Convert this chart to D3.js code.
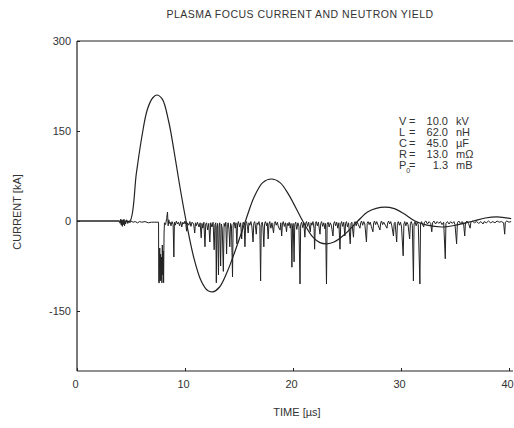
<!DOCTYPE html>
<html><head><meta charset="utf-8">
<script src="https://cdn.jsdelivr.net/npm/d3@7"></script>
<style>
body{margin:0;background:#fff;}
text{font-family:"Liberation Sans",Arial,sans-serif;fill:#333;}
</style></head>
<body><svg id="c" width="514" height="428"></svg>
<script>
const title = "PLASMA FOCUS CURRENT AND NEUTRON YIELD";
const xTicks = [0, 10, 20, 30, 40];
const yTicks = [300, 150, 0, -150];
const paramNames = ["V", "L", "C", "R", "P"];
const paramValues = ["10.0", "62.0", "45.0", "13.0", "1.3"];
const paramUnits = ["kV", "nH", "\u00b5F", "m\u03a9", "mB"];

// Discharge current (kA) vs time (µs)
const currentT = [0, 4.5, 4.9, 5.5, 6.0, 6.5, 7.0, 7.4, 7.9, 8.5, 9.0, 9.5, 10.1, 10.8, 11.5, 12.1, 12.6, 13.2, 13.9, 14.6, 15.6, 16.4, 17.2, 18.0, 18.8, 19.6, 20.9, 21.8, 22.5, 23.1, 23.8, 24.8, 26.0, 26.9, 27.7, 28.5, 29.3, 30.2, 31.3, 32.4, 33.9, 35.3, 36.7, 37.8, 38.9, 40.2];
const currentV = [0, 0, 0, 80, 140, 185, 205, 210, 203, 165, 115, 60, 0, -60, -100, -116, -118, -110, -85, -52, 0, 40, 64, 70, 64, 44, 0, -26, -36, -38, -35, -22, 0, 15, 21, 23, 21, 13, 0, -7, -10, -6, 0, 5, 7, 4];

// Neutron detector signal [time µs, amplitude]
const noise = [
[0,0],[3.9,0],[4.0,-4],[4.05,3],[4.1,-7],[4.15,2],[4.2,-9],[4.25,1],[4.3,-6],[4.35,3],[4.4,-8],[4.45,0],[4.5,-5],[4.6,2],[4.7,-4],[4.8,-1],[4.9,-3],[5.0,0],[5.2,-2],[5.4,-1],[5.6,-3],[5.8,-1],[6.0,-2],[6.3,-1],[6.6,-3],[6.9,-2],[7.2,-2],[7.55,-2],
[7.57,-103],[7.62,-103],[7.66,-45],[7.7,-100],[7.74,-55],[7.78,-98],[7.82,-60],[7.86,-103],[7.9,-40],[7.94,-90],[7.98,-50],[8.02,-103],[8.06,-20],[8.1,-3],[8.2,-6],[8.3,4],[8.38,15],[8.44,-8],[8.5,2],[8.56,-4],
[8.62,-2],[8.7,-8],[8.8,-1],[8.9,-6],[8.97,-60],[9.02,-2],[9.1,-7],[9.2,0],[9.3,-5],[9.4,-2],[9.5,-8],[9.6,-1],[9.7,-10],[9.8,-2],[9.9,-5],[10.0,0],[10.08,-6],[10.15,-17],[10.22,-3],[10.35,-7],[10.45,-1],[10.55,-9],[10.65,-2],[10.8,-5],[10.9,-20],[10.97,-3],[11.05,-8],[11.15,-2],[11.3,-10],[11.4,-3],[11.5,-28],[11.57,-4],[11.65,-12],[11.75,-2],[11.85,-43],[11.92,-5],[12.0,-3],[12.1,-15],[12.2,-4],[12.3,-35],[12.38,-3],[12.5,-10],[12.6,-2],[12.7,-48],[12.77,-6],[12.85,-3],[12.9,-103],[12.95,-10],[13.02,-4],[13.1,-90],[13.16,-8],[13.22,-3],[13.3,-75],[13.36,-5],[13.45,-12],[13.55,-84],[13.62,-4],[13.7,-9],[13.78,-2],[13.85,-55],[13.92,-6],[14.0,-3],[14.07,-14],[14.15,-43],[14.22,-4],[14.3,-8],[14.4,-93],[14.46,-5],[14.55,-2],[14.65,-12],[14.72,-3],[14.8,-38],[14.87,-5],[14.95,-1],[15.05,-10],[15.15,-3],[15.25,-30],[15.32,-6],[15.4,-2],[15.48,-8],[15.55,-43],[15.62,-4],[15.7,-1],[15.78,-9],[15.85,-20],[15.92,-3],[16.0,-7],[16.1,-1],[16.2,-10],[16.3,-35],[16.37,-4],[16.45,-1],[16.52,-8],[16.6,-22],[16.67,-3],[16.75,-6],[16.85,-1],[16.93,-9],[17.0,-100],[17.06,-6],[17.15,-2],[17.22,-10],[17.3,-43],[17.37,-4],[17.45,-1],[17.55,-8],[17.62,-3],[17.7,-30],[17.77,-5],[17.85,-1],[17.95,-12],[18.05,-3],[18.2,-20],[18.27,-4],[18.35,-1],[18.45,-7],[18.55,-2],[18.65,-10],[18.8,-15],[18.87,-3],[18.95,-25],[19.02,-5],[19.1,-1],[19.2,-9],[19.3,-3],[19.4,-18],[19.47,-4],[19.55,-8],[19.65,-2],[19.75,-12],[19.82,-4],[19.9,-77],[19.96,-8],[20.02,-4],[20.1,-68],[20.16,-6],[20.25,-2],[20.35,-14],[20.45,-3],[20.55,-9],[20.65,-105],[20.71,-6],[20.8,-2],[20.9,-11],[21.0,-3],[21.1,-27],[21.17,-4],[21.25,-1],[21.35,-9],[21.45,-2],[21.6,-18],[21.67,-3],[21.75,-7],[21.85,-1],[21.95,-12],[22.0,-47],[22.07,-4],[22.15,-1],[22.25,-8],[22.35,-2],[22.5,-22],[22.57,-4],[22.65,-1],[22.75,-9],[22.85,-3],[22.95,-13],[23.02,-4],[23.1,-105],[23.16,-6],[23.25,-2],[23.35,-10],[23.45,-3],[23.55,-7],[23.7,-25],[23.77,-4],[23.85,-1],[23.95,-8],[24.05,-2],[24.15,-12],[24.25,-3],[24.35,-47],[24.42,-5],[24.5,-1],[24.6,-9],[24.7,-2],[24.8,-25],[24.87,-4],[24.95,-1],[25.05,-10],[25.15,-3],[25.3,-38],[25.37,-4],[25.45,-2],[25.6,-27],[25.67,-4],[25.75,-1],[25.85,-8],[25.95,-2],[26.05,-6],[26.2,-12],[26.27,-3],[26.35,0],[26.45,-7],[26.55,-1],[26.65,-5],[26.8,-35],[26.87,-4],[26.95,-1],[27.05,-6],[27.15,-2],[27.25,-9],[27.4,-18],[27.47,-3],[27.55,0],[27.65,-6],[27.75,-1],[27.9,-8],[28.05,-15],[28.12,-3],[28.2,0],[28.3,-6],[28.4,-2],[28.55,-7],[28.7,-12],[28.77,-3],[28.85,0],[28.95,-5],[29.05,-1],[29.15,-8],[29.3,-25],[29.37,-4],[29.45,-2],[29.6,-35],[29.67,-4],[29.75,-1],[29.85,-7],[29.95,-2],[30.05,-10],[30.2,-58],[30.27,-5],[30.35,-1],[30.45,-8],[30.55,-2],[30.65,-6],[30.8,-30],[30.87,-4],[30.95,-1],[31.05,-7],[31.15,-100],[31.21,-5],[31.3,-1],[31.4,-8],[31.5,-2],[31.6,-6],[31.75,-105],[31.81,-5],[31.9,-1],[32.0,-6],[32.1,-10],[32.17,-2],[32.3,0],[32.45,-5],[32.6,-1],[32.75,-4],[32.85,-18],[32.92,-3],[33.05,0],[33.2,-5],[33.35,-1],[33.5,-4],[33.65,-1],[33.8,-6],[33.95,-2],[34.1,-63],[34.16,-4],[34.3,-1],[34.45,-5],[34.6,-1],[34.75,-4],[34.9,-1],[35.0,-6],[35.15,-38],[35.22,-3],[35.35,0],[35.5,-4],[35.65,-1],[35.8,-5],[35.9,-25],[35.97,-3],[36.1,0],[36.25,-4],[36.4,-12],[36.47,-2],[36.6,0],[36.8,-3],[37.0,-1],[37.2,-4],[37.4,-1],[37.6,-5],[37.7,-1],[37.9,-3],[38.1,0],[38.3,-3],[38.5,-1],[38.7,-3],[38.9,0],[39.1,-2],[39.3,-1],[39.5,-3],[39.6,-22],[39.66,-2],[39.8,0],[40.0,-2],[40.2,-1]
];

const svg = d3.select("#c");
const x = d3.scaleLinear().domain([0, 40]).range([77, 509]);
const y = d3.scaleLinear().domain([-250, 300]).range([371, 41]);
const ink = "#222";

// frame lines
svg.append("line").attr("x1", 77).attr("x2", 513).attr("y1", y(300)).attr("y2", y(300)).attr("stroke", ink).attr("stroke-width", 1);
svg.append("line").attr("x1", 77).attr("x2", 513).attr("y1", y(-250)).attr("y2", y(-250)).attr("stroke", ink).attr("stroke-width", 1.2);
svg.append("line").attr("x1", 77).attr("x2", 77).attr("y1", y(300)).attr("y2", y(-250)).attr("stroke", ink).attr("stroke-width", 1.2);

// axes
const xAxis = d3.axisBottom(x).tickValues(xTicks).tickSize(-3).tickPadding(9).tickFormat(d => String(d));
const gx = svg.append("g").attr("transform", `translate(0,${y(-250)})`).call(xAxis);
gx.select(".domain").remove();
gx.selectAll("line").attr("stroke", ink);
gx.selectAll("text").attr("font-size", 11).attr("fill", "#333").attr("font-family", "Liberation Sans, Arial, sans-serif").attr("dx", "-2");

const yAxis = d3.axisLeft(y).tickValues(yTicks).tickSize(-3).tickPadding(6).tickFormat(d => String(d));
const gy = svg.append("g").attr("transform", `translate(77,0)`).call(yAxis);
gy.select(".domain").remove();
gy.selectAll("line").attr("stroke", ink);
gy.selectAll("text").attr("font-size", 11).attr("fill", "#333").attr("font-family", "Liberation Sans, Arial, sans-serif");

// noise signal
const lineN = d3.line().x(d => x(d[0])).y(d => y(d[1]));
svg.append("path").datum(noise).attr("d", lineN).attr("fill", "none").attr("stroke", ink).attr("stroke-width", 1);

// current
const cur = currentT.map((t, i) => [t, currentV[i]]);
const lineC = d3.line().x(d => x(d[0])).y(d => y(d[1])).curve(d3.curveCatmullRom.alpha(0.5));
svg.append("path").datum(cur).attr("d", lineC).attr("fill", "none").attr("stroke", ink).attr("stroke-width", 1.2);

// titles
svg.append("text").attr("x", 300).attr("y", 18).attr("text-anchor", "middle").attr("font-size", 10.5).attr("letter-spacing", "0.5").text(title);
svg.append("text").attr("x", 297).attr("y", 416).attr("text-anchor", "middle").attr("font-size", 11).text("TIME [\u00b5s]");
svg.append("text").attr("transform", "translate(21,212) rotate(-90)").attr("text-anchor", "middle").attr("font-size", 11).text("CURRENT [kA]");

// parameter box
const g = svg.append("g").attr("font-size", 11);
paramNames.forEach((n, i) => {
  const yy = 125 + i * 11;
  const t = g.append("text").attr("x", 399).attr("y", yy).text(n);
  if (n === "P") t.append("tspan").attr("dy", 4).attr("font-size", 7).text("0");
  g.append("text").attr("x", 409).attr("y", yy).text("=");
  g.append("text").attr("x", 448).attr("y", yy).attr("text-anchor", "end").text(paramValues[i]);
  g.append("text").attr("x", 456).attr("y", yy).text(paramUnits[i]);
});
</script></body></html>
